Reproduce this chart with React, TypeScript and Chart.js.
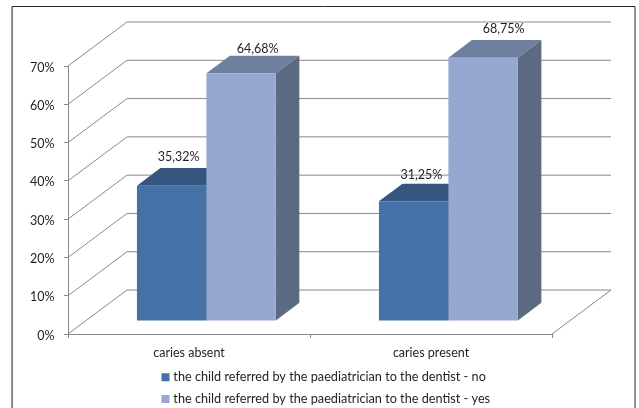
import React, { useEffect, useRef } from "react";
import { Chart, registerables } from "chart.js";

Chart.register(...registerables);

const categories = ["caries absent", "caries present"];
const seriesNames = [
  "the child referred by the paediatrician to the dentist - no",
  "the child referred by the paediatrician to the dentist - yes",
];
const seriesNo = [35.32, 31.25];
const seriesYes = [64.68, 68.75];

const FONT = "Lato";
const FONT_SIZE = 12.5;
const LEGEND_SIZE = 12.7;
const TEXT = "#1f1f1f";
const GRID = "#8a8a8a";
const WALL_DX = 59;
const WALL_DY = 44;
const BAR_SHIFT_X = 17.4;
const BAR_SHIFT_Y = 13;
const DEPTH_X = 23.5;
const DEPTH_Y = 17.7;
const faces = [
  { front: "#4472a6", top: "#34567f", side: "#34567f" },
  { front: "#95a8cf", top: "#6f7f9f", side: "#5c6b82" },
];
const labelNudge = [
  [{ x: 7, y: 29 }, { x: 7.7, y: 26.5 }],
  [{ x: 16.5, y: 24.5 }, { x: 20.5, y: 28.5 }],
];

const poly = (ctx: CanvasRenderingContext2D, pts: number[][], fill: string) => {
  ctx.beginPath();
  pts.forEach((p, i) => (i ? ctx.lineTo(p[0], p[1]) : ctx.moveTo(p[0], p[1])));
  ctx.closePath();
  ctx.fillStyle = fill;
  ctx.fill();
};

const scene = {
  id: "scene",
  beforeDraw(chart: any) {
    const { ctx } = chart;
    ctx.save();
    ctx.fillStyle = "#fff";
    ctx.fillRect(0, 0, chart.width, chart.height);
    ctx.strokeStyle = "#2a2a2a";
    ctx.lineWidth = 1;
    ctx.beginPath();
    ctx.moveTo(12, 420);
    ctx.lineTo(12, 6.5);
    ctx.lineTo(635, 6.5);
    ctx.lineTo(635, 420);
    ctx.stroke();
    ctx.strokeStyle = "#808080";
    ctx.beginPath();
    ctx.moveTo(12.5, 420);
    ctx.lineTo(12.5, 7);
    ctx.stroke();
    ctx.restore();
  },
  beforeDatasetsDraw(chart: any) {
    const { ctx, chartArea, scales } = chart;
    ctx.save();
    ctx.lineWidth = 1;
    ctx.strokeStyle = GRID;
    const left = chartArea.left;
    const right = chartArea.right;
    scales.y.ticks.forEach((t: any) => {
      const y = scales.y.getPixelForValue(t.value);
      ctx.beginPath();
      ctx.moveTo(left, y);
      ctx.lineTo(left + WALL_DX, y - WALL_DY);
      ctx.lineTo(right + WALL_DX, y - WALL_DY);
      ctx.stroke();
    });
    const y0 = scales.y.getPixelForValue(0);
    ctx.beginPath();
    ctx.moveTo(right, y0);
    ctx.lineTo(right + WALL_DX, y0 - WALL_DY);
    ctx.stroke();
    ctx.restore();

    ctx.save();
    ctx.translate(BAR_SHIFT_X, -BAR_SHIFT_Y);
    chart.data.datasets.forEach((_: any, d: number) => {
      chart.getDatasetMeta(d).data.forEach((bar: any) => {
        const l = bar.x - bar.width / 2;
        const r = bar.x + bar.width / 2;
        const t = bar.y;
        const b = bar.base;
        poly(ctx, [[l, t], [l + DEPTH_X, t - DEPTH_Y], [r + DEPTH_X, t - DEPTH_Y], [r, t]], faces[d].top);
        poly(ctx, [[r, t], [r + DEPTH_X, t - DEPTH_Y], [r + DEPTH_X, b - DEPTH_Y], [r, b]], faces[d].side);
      });
    });
    ctx.restore();
    ctx.save();
    ctx.translate(BAR_SHIFT_X, -BAR_SHIFT_Y);
  },
  afterDatasetsDraw(chart: any) {
    const { ctx } = chart;
    ctx.restore();
    ctx.save();
    ctx.font = `${FONT_SIZE}px ${FONT}`;
    ctx.fillStyle = TEXT;
    ctx.textAlign = "center";
    ctx.textBaseline = "middle";
    chart.data.datasets.forEach((ds: any, d: number) => {
      chart.getDatasetMeta(d).data.forEach((bar: any, i: number) => {
        const n = labelNudge[d][i];
        const text = ds.data[i].toFixed(2).replace(".", ",") + "%";
        ctx.fillText(text, bar.x + BAR_SHIFT_X + n.x, bar.y - BAR_SHIFT_Y - n.y);
      });
    });
    ctx.restore();
  },
  afterLayout(chart: any) {
    const lg = chart.legend;
    const pad = lg.options.labels.padding;
    lg.left = 164 - pad;
    lg.right = chart.width;
    lg.top = 371 - pad;
    lg.bottom = lg.top + lg.height;
    chart.scales.x.bottom = 368;
    chart.scales.x.height = 368 - chart.scales.x.top;
  },
};

export default function App() {
  const ref = useRef<HTMLCanvasElement>(null);
  useEffect(() => {
    const chart = new Chart(ref.current!, {
      type: "bar",
      data: {
        labels: categories,
        datasets: [
          { label: seriesNames[0], data: seriesNo, backgroundColor: faces[0].front, borderWidth: 0 },
          { label: seriesNames[1], data: seriesYes, backgroundColor: faces[1].front, borderWidth: 0 },
        ],
      },
      plugins: [scene],
      options: {
        responsive: false,
        animation: false,
        events: [],
        layout: { padding: { left: 22, right: 87, top: 66, bottom: 0 } },
        datasets: { bar: { categoryPercentage: 0.574, barPercentage: 1 } },
        plugins: {
          tooltip: { enabled: false },
          title: { display: false },
          legend: {
            position: "bottom",
            align: "start",
            labels: {
              font: { family: FONT, size: LEGEND_SIZE },
              color: TEXT,
              usePointStyle: true,
              pointStyle: "rect",
              boxWidth: 3,
              boxHeight: 8,
              padding: 9,
            },
          },
        },
        scales: {
          x: {
            afterFit: (s: any) => {
              s.height = 74 - s.chart.legend.height;
            },
            border: { color: GRID },
            grid: { drawOnChartArea: false, drawTicks: true, tickLength: 4, color: GRID },
            ticks: { font: { family: FONT, size: FONT_SIZE }, color: TEXT, padding: 7, maxRotation: 0 },
          },
          y: {
            min: 0,
            max: 70,
            afterFit: (s: any) => {
              s.width = 46;
            },
            border: { color: GRID },
            grid: { drawOnChartArea: false, drawTicks: true, tickLength: 4, color: GRID },
            ticks: {
              stepSize: 10,
              font: { family: FONT, size: FONT_SIZE },
              color: TEXT,
              padding: 9.5,
              labelOffset: 1.5,
              callback: (v: any) => `${v}%`,
            },
          },
        },
      },
    } as any);
    return () => chart.destroy();
  }, []);
  return (
    <div style={{ position: "fixed", left: 0, top: 0, width: 639, height: 408 }}>
      <canvas ref={ref} width={639} height={408} style={{ display: "block" }} />
    </div>
  );
}
